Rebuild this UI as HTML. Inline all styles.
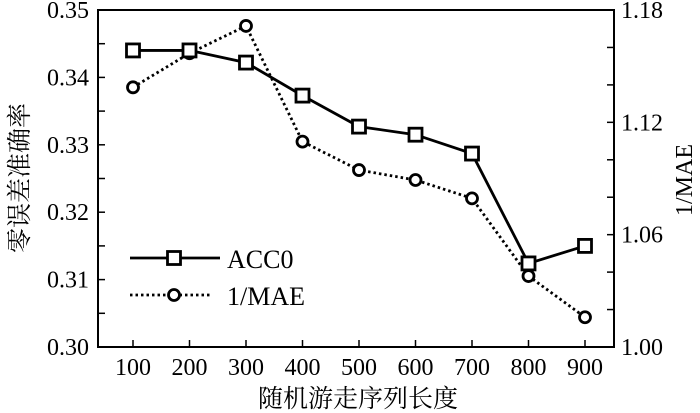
<!DOCTYPE html>
<html><head><meta charset="utf-8"><style>
html,body{margin:0;padding:0;background:#fff;}
svg{display:block;font-family:"Liberation Serif","Noto Serif CJK SC",serif;}
</style></head><body>
<svg id="chart" width="700" height="413">
<g id="g"></g>
</svg>
<script>
const categories=[100,200,300,400,500,600,700,800,900];
const acc0=[0.344,0.344,0.3422,0.3373,0.3327,0.3315,0.3287,0.3124,0.315];
const invMae=[1.1387,1.1569,1.1715,1.1097,1.0945,1.0892,1.0794,1.0379,1.0159];
const leftTicks=["0.30","0.31","0.32","0.33","0.34","0.35"];
const rightTicks=["1.00","1.06","1.12","1.18"];
const NS="http://www.w3.org/2000/svg";
const g=document.getElementById('g');
const L=98,R=614,T=10,B=347;
const xs=v=>133+(v-100)*(585-133)/800;
const yl=v=>B-(v-0.30)/(0.05)*(B-T);
const yr=v=>B-(v-1.00)/(0.18)*(B-T);
function mk(tag,a,p){const e=document.createElementNS(NS,tag);for(const k in a)e.setAttribute(k,a[k]);(p||g).appendChild(e);return e;}
let e=mk('rect',{x:L,y:T,width:R-L,height:B-T,fill:'none',stroke:'#000','stroke-width':2});


for(let i=0;i<=10;i++){const v=0.30+i*0.005;const y=yl(v);
 mk('line',{x1:L,x2:L+7,y1:y,y2:y,stroke:'#000','stroke-width':1.5});}
leftTicks.forEach(t=>{const y=yl(parseFloat(t));
 const tx=mk('text',{x:89,y:y+8,'text-anchor':'end','font-size':24});tx.textContent=t;
 
 });
for(let i=0;i<=9;i++){const v=1.00+i*0.02;const y=yr(v);
 mk('line',{x1:R-7,x2:R,y1:y,y2:y,stroke:'#000','stroke-width':1.5});}
rightTicks.forEach(t=>{const y=yr(parseFloat(t));
 const tx=mk('text',{x:621,y:y+8,'text-anchor':'start','font-size':24});tx.textContent=t;
 
 });
categories.forEach(c=>{const x=xs(c);
 mk('line',{x1:x,x2:x,y1:B,y2:B-7,stroke:'#000','stroke-width':1.5});
 const tx=mk('text',{x:x,y:375,'text-anchor':'middle','font-size':24});tx.textContent=c;
 
 });
let p=mk('polyline',{points:categories.map((c,i)=>xs(c)+','+yr(invMae[i])).join(' '),fill:'none',stroke:'#000','stroke-width':2.8,'stroke-dasharray':'2.5 3'});


categories.forEach((c,i)=>{const m=mk('circle',{cx:xs(c),cy:yr(invMae[i]),r:5.5,fill:'#fff',stroke:'#000','stroke-width':2.8});
 
 });
p=mk('polyline',{points:categories.map((c,i)=>xs(c)+','+yl(acc0[i])).join(' '),fill:'none',stroke:'#000','stroke-width':2.8});


categories.forEach((c,i)=>{const m=mk('rect',{x:xs(c)-6.5,y:yl(acc0[i])-6.5,width:13,height:13,fill:'#fff',stroke:'#000','stroke-width':2.8});
 
 });
mk('line',{x1:130,x2:220,y1:258,y2:258,stroke:'#000','stroke-width':2.8});
let lm=mk('rect',{x:167.5,y:251.5,width:13,height:13,fill:'#fff',stroke:'#000','stroke-width':2.8});


let lt=mk('text',{x:227,y:268,'font-size':26});lt.textContent='ACC0';


mk('line',{x1:130,x2:212,y1:295,y2:295,stroke:'#000','stroke-width':2.8,'stroke-dasharray':'2.5 3'});
lm=mk('circle',{cx:174,cy:295,r:5.5,fill:'#fff',stroke:'#000','stroke-width':2.8});


lt=mk('text',{x:227,y:305,'font-size':26});lt.textContent='1/MAE';


let t=mk('text',{x:0,y:0,'font-size':25,'text-anchor':'middle',transform:'translate(28,178) rotate(-90)'});t.textContent='零误差准确率';


t=mk('text',{x:0,y:0,'font-size':24,'text-anchor':'middle',transform:'translate(692,180) rotate(-90)'});t.textContent='1/MAE';


t=mk('text',{x:0,y:0,'font-size':25,'text-anchor':'middle',transform:'translate(358,407)'});t.textContent='随机游走序列长度';


</script>
</body></html>
